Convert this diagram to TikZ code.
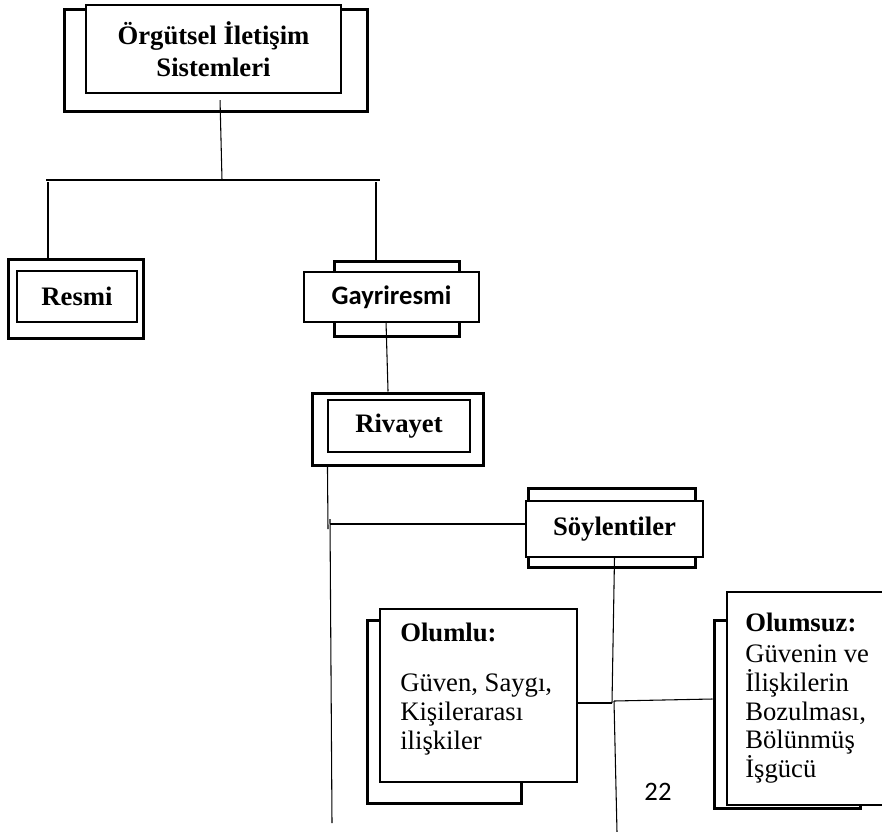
\documentclass[tikz,border=0pt]{standalone}
\usepackage{fontspec}
\setmainfont{Liberation Serif}
\newfontfamily\calibri{Carlito}

\tikzset{
  frame/.style={draw, line width=2.25pt, inner sep=0pt},
  card/.style={draw, line width=0.8pt, fill=white, inner sep=0pt},
  lbl/.style={font=\fontsize{20}{21.5}\selectfont\bfseries},
  body/.style={font=\fontsize{20}{21.5}\selectfont, inner sep=0pt, align=left},
  conn/.style={line width=0.8pt},
}

\begin{document}
\begin{tikzpicture}[x=0.75pt,y=0.75pt,yscale=-1,xscale=1]
\useasboundingbox (0,0) rectangle (882,832);

%Shape: Rectangle (outer frames)
\node [frame, minimum width=227.25pt, minimum height=76.5pt] (orgframe) at (215.5,60) {};
\node [frame, minimum width=101.25pt, minimum height=59.25pt] (resmiframe) at (75.5,298.5) {};
\node [frame, minimum width=93.75pt, minimum height=56.25pt] (gayriframe) at (396.5,298.5) {};
\node [frame, minimum width=128.25pt, minimum height=54pt] (rivframe) at (397.5,429) {};
\node [frame, minimum width=125.25pt, minimum height=59.25pt] (soyframe) at (611.5,527.5) {};
\node [frame, minimum width=115.5pt, minimum height=137.25pt] (olumluframe) at (444,711.5) {};
\node [frame, minimum width=109.5pt, minimum height=141pt] (olumsuzframe) at (787,714) {};

%Shape: Rectangle (inner cards)
\node [card, lbl, align=center, font=\fontsize{20}{24}\selectfont\bfseries, minimum width=191.25pt, minimum height=66pt] (orgcard) at (213.5,49) {Örgütsel İletişim\\Sistemleri};
\node [card, lbl, minimum width=90pt, minimum height=38.25pt] (resmicard) at (77,296.5) {Resmi\hspace{3pt}};
\node [card, font=\fontsize{20}{21.5}\selectfont\calibri\bfseries, minimum width=131.25pt, minimum height=37.5pt] (gayricard) at (391.5,297) {Gayriresmi\hspace{10pt}};
\node [card, lbl, minimum width=106.5pt, minimum height=39pt] (rivcard) at (399,426) {Rivayet\hspace{10pt}};
\node [card, lbl, minimum width=132.75pt, minimum height=42pt] (soycard) at (614.5,529) {Söylentiler\hspace{10pt}};
\node [card, minimum width=147.75pt, minimum height=129.75pt] (olumlucard) at (478.5,695.5) {};
\node [card, minimum width=122.25pt, minimum height=159.75pt] (olumsuzcard) at (808.5,698.5) {};

%Text
\node [body, anchor=north west] (olumlutext) at (400,623) {\textbf{Olumlu:}\\[16pt]Güven, Saygı,\\Kişilerarası\\ilişkiler};
\node [body, anchor=north west] (olumsuztext) at (745,613) {\textbf{Olumsuz:}\\[1.75pt]Güvenin ve\\İlişkilerin\\Bozulması,\\Bölünmüş\\İşgücü};
\node [font=\fontsize{20}{21.5}\selectfont\calibri, inner sep=0pt] (pagenum) at (658,792) {22};

%Coordinates
\coordinate (hub) at (222,180);
\coordinate (hl) at (46,180);
\coordinate (hr) at (380,180);
\coordinate (ltick) at (48,182);
\coordinate (rtick) at (376,182);
\coordinate (rv1) at (328,529);
\coordinate (rv2) at (330,519);
\coordinate (rv3) at (330,524);
\coordinate (rvend) at (332,823);
\coordinate (split1) at (612,703);
\coordinate (split2) at (614,701);
\coordinate (soyend) at (617,832);

%Straight Lines
\draw [conn] ([xshift=4.9pt,yshift=5pt]orgcard.south) -- (hub);
\draw [conn] (hl) -- (hr);
\draw [conn] (ltick) -- (ltick |- resmiframe.north);
\draw [conn] (rtick) -- (rtick |- gayriframe.north);
\draw [conn] ([xshift=-4.1pt]gayricard.south) -- ([xshift=-7.1pt]rivframe.north);
\draw [conn] (rivcard.west |- rivframe.south) -- (rv1);
\draw [conn] (rv2) -- (rvend);
\draw [conn] (rv3) -- (rv3 -| soycard.west);
\draw [conn] (soycard.south) -- (split1);
\draw [conn] (split2) -- (soyend);
\draw [conn] (split1) -- (split1 -| olumlucard.east);
\draw [conn] (split2) -- ([yshift=-11.25pt]olumsuzframe.west);

\end{tikzpicture}
\end{document}
